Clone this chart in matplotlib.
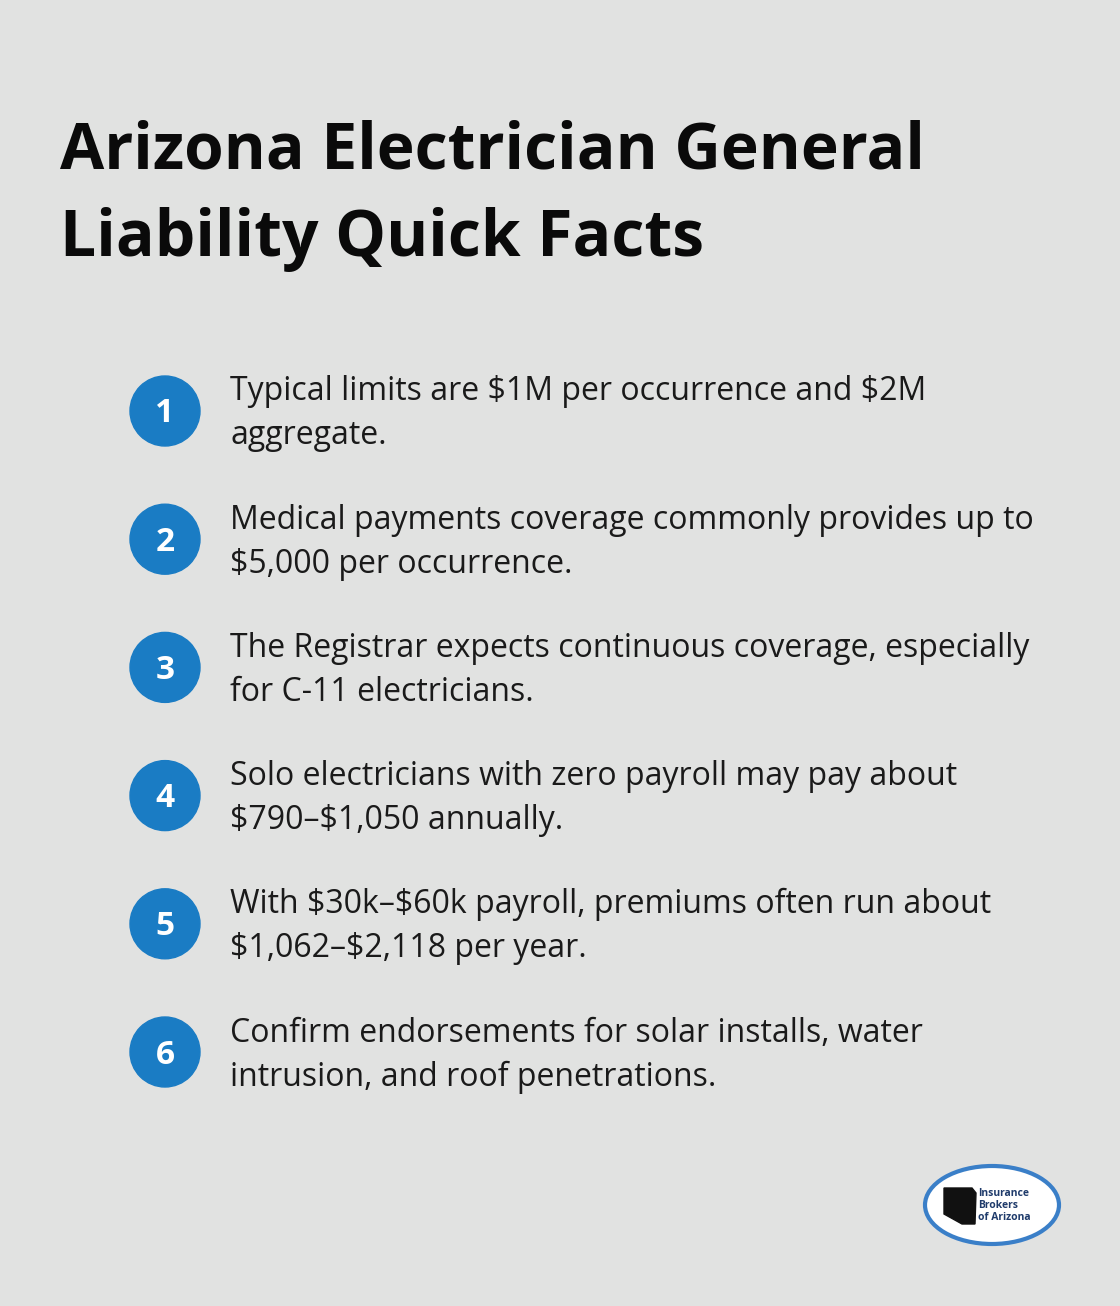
import matplotlib.pyplot as plt
from matplotlib.patches import Circle, Ellipse, Polygon

plt.rcParams['font.family'] = ['Open Sans', 'DejaVu Sans']

title_lines = ["Arizona Electrician General", "Liability Quick Facts"]
numbers = ["1", "2", "3", "4", "5", "6"]
facts = [
    ["Typical limits are $1M per occurrence and $2M", "aggregate."],
    ["Medical payments coverage commonly provides up to", "$5,000 per occurrence."],
    ["The Registrar expects continuous coverage, especially", "for C-11 electricians."],
    ["Solo electricians with zero payroll may pay about", "$790\u2013$1,050 annually."],
    ["With $30k\u2013$60k payroll, premiums often run about", "$1,062\u2013$2,118 per year."],
    ["Confirm endorsements for solar installs, water", "intrusion, and roof penetrations."],
]

BG = '#e1e2e1'
BLUE = '#1a7cc4'

fig = plt.figure(figsize=(11.2, 13.06), dpi=100, facecolor=BG)
ax = fig.add_axes([0, 0, 1, 1])
ax.set_xlim(0, 1120)
ax.set_ylim(1306, 0)
ax.axis('off')
ax.set_facecolor(BG)

# title
for i, line in enumerate(title_lines):
    ax.text(60, 152 + i * 87, line, fontsize=46.2, fontweight='bold',
            color='#0a0a0a', va='center', ha='left')

# facts list
y0, step = 411, 128.2
for i, (num, lines) in enumerate(zip(numbers, facts)):
    yc = y0 + i * step
    ax.add_patch(Circle((165, yc), 35, color=BLUE))
    ax.text(165, yc + 3, num, fontsize=24, fontweight='bold', color='white',
            ha='center', va='center')
    ax.text(230, yc - 19, lines[0], fontsize=23, color='#1a1a1a', va='center',
            parse_math=False)
    ax.text(230, yc + 25, lines[1], fontsize=23, color='#1a1a1a', va='center',
            parse_math=False)

# logo
ax.add_patch(Ellipse((992, 1205), 134, 78, facecolor='white', edgecolor='#3a7fc8', lw=3))
az = [(944, 1188), (972, 1188), (976, 1193), (975, 1224), (962, 1224), (944, 1214)]
ax.add_patch(Polygon(az, closed=True, color='#111111'))
ax.text(978, 1193, "Insurance", fontsize=7.5, fontweight='bold', color='#1f3b6b', va='center')
ax.text(978, 1205, "Brokers", fontsize=7.5, fontweight='bold', color='#1f3b6b', va='center')
ax.text(978, 1218, "of Arizona", fontsize=7.5, fontweight='bold', color='#1f3b6b', va='center')

fig.savefig('out.png', dpi=100, facecolor=BG)
